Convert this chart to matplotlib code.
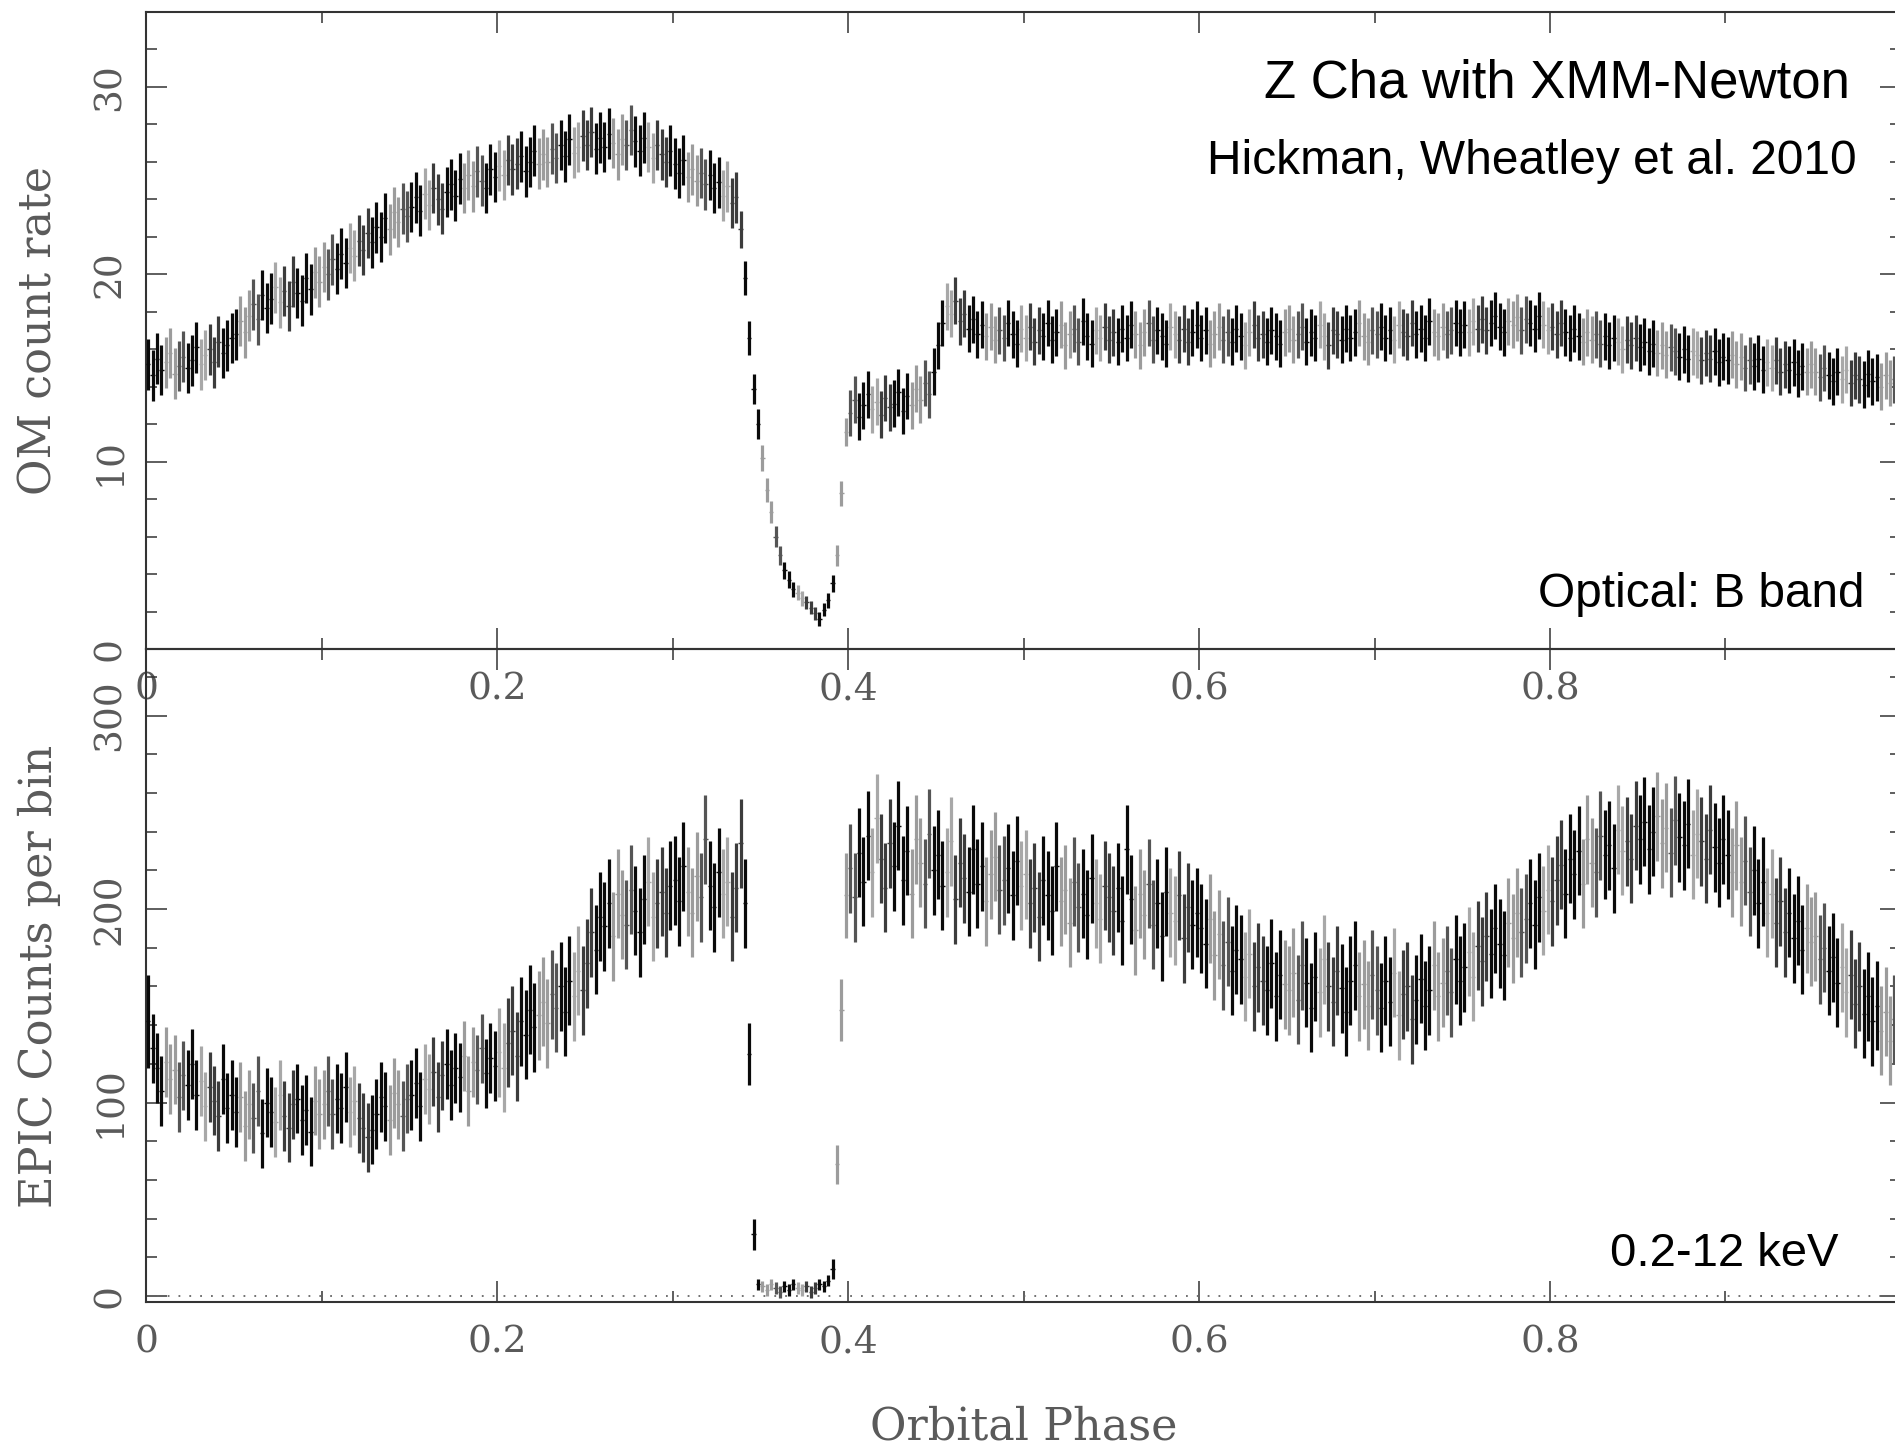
import numpy as np
import matplotlib
matplotlib.use("Agg")
import matplotlib.pyplot as plt
from matplotlib.ticker import MultipleLocator

# ---------------- data ----------------
PHASE_BIN = 0.0025          # orbital-phase bin width of both light curves

# OM (optical, B band) count rate per phase bin, phase 0 -> 1
OM_RATE = [
    15.2, 14.6, 15.5, 14.9, 15.3, 15.8, 14.7, 15.1, 15.6, 15.0, 15.4, 16.1, 15.2, 15.7, 16.0, 15.3, 16.4, 15.8, 16.2, 16.6,
    16.8, 17.5, 16.9, 17.8, 18.4, 17.6, 18.9, 18.2, 18.7, 19.3, 18.5, 19.1, 18.3, 19.6, 19.0, 18.6, 19.8, 19.2, 20.1, 19.6,
    20.4, 20.0, 20.8, 20.3, 21.1, 20.6, 21.4, 21.0, 21.8, 21.3, 22.2, 21.7, 22.5, 22.0, 23.0, 22.4, 23.3, 22.8, 23.5, 23.1,
    23.6, 24.1, 23.4, 24.3, 23.7, 24.6, 24.0, 23.5, 24.4, 24.8, 24.2, 25.1, 24.6, 25.3, 24.7, 25.5, 25.0, 24.6, 25.6, 25.2,
    25.8, 25.3, 26.1, 25.6, 25.9, 26.3, 25.5, 26.0, 26.6, 25.9, 26.4, 26.0, 26.7, 26.2, 26.9, 26.3, 27.2, 26.5, 26.8, 27.4,
    26.9, 27.6, 26.7, 27.3, 26.8, 27.5, 27.0, 26.4, 27.2, 26.9, 27.7, 27.1, 26.6, 27.3, 26.8, 26.2, 26.9, 26.4, 26.0, 26.6,
    25.9, 25.4, 26.1, 25.2, 25.6, 25.0, 25.4, 24.8, 25.3, 24.6, 24.9, 24.2, 24.7, 23.8, 24.1, 22.4, 19.8, 16.6, 13.9, 12.0,
    10.2, 8.5, 7.3, 6.0, 5.0, 4.2, 3.7, 3.2, 3.0, 2.7, 2.5, 2.2, 1.9, 1.6, 2.1, 2.6, 3.5, 5.0, 8.3, 11.6,
    12.6, 13.3, 12.4, 13.0, 13.6, 12.8, 13.2, 12.5, 13.4, 12.9, 13.1, 13.7, 12.7, 13.5, 13.0, 13.9, 13.3, 14.2, 13.6, 14.8,
    16.2, 17.4, 18.3, 17.9, 18.6, 17.5, 17.9, 17.1, 17.6, 16.8, 17.3, 16.7, 17.2, 16.5, 17.0, 16.6, 17.4, 16.8, 16.3, 17.1,
    16.6, 17.2, 16.4, 17.0, 16.7, 17.4, 16.5, 16.9, 17.3, 16.2, 16.8, 17.1, 16.4, 17.5, 16.7, 16.3, 17.0, 16.6, 17.2, 16.5,
    16.9, 16.4, 17.1, 16.6, 17.3, 16.8, 16.2, 16.9, 17.4, 16.5, 17.0, 16.7, 16.3, 17.2, 16.8, 16.5, 17.1, 16.4, 16.9, 17.3,
    16.6, 17.0, 16.3, 16.8, 17.2, 16.5, 16.9, 16.4, 17.1, 16.7, 16.2, 16.9, 17.3, 16.6, 16.8, 16.4, 17.0, 16.7, 16.3, 16.9,
    17.1, 16.5, 16.8, 17.2, 16.4, 16.9, 16.6, 17.3, 16.7, 16.2, 17.0, 16.8, 16.5, 17.1, 16.6, 16.9, 17.4, 16.7, 16.4, 17.0,
    16.8, 17.2, 16.6, 17.0, 16.5, 17.3, 16.9, 16.7, 17.4, 16.8, 17.1, 16.6, 17.5, 16.9, 16.7, 17.2, 16.8, 17.0, 17.4, 16.9,
    17.3, 16.9, 17.5, 17.1, 17.6, 17.0, 17.4, 17.8, 17.2, 16.9, 17.5, 17.3, 17.7, 17.0, 17.6, 17.4, 17.1, 17.8, 17.3, 17.0,
    17.2, 16.8, 17.4, 16.9, 16.6, 17.1, 16.7, 16.4, 16.9, 16.5, 16.8, 16.3, 16.7, 16.2, 16.6, 16.4, 16.0, 16.5, 16.2, 16.6,
    16.1, 16.4, 15.9, 16.3, 15.8, 16.2, 15.7, 16.1, 15.9, 15.6, 16.0, 15.5, 15.9, 15.7, 15.4, 15.8, 15.5, 15.9, 15.3, 15.6,
    15.4, 15.7, 15.2, 15.6, 15.0, 15.4, 15.1, 15.5, 14.9, 15.3, 15.0, 15.4, 14.8, 15.2, 14.9, 15.3, 14.7, 15.1, 14.8, 15.2,
    14.8, 14.5, 15.0, 14.6, 14.3, 14.8, 14.4, 14.9, 14.2, 14.6, 14.4, 14.1, 14.7, 14.3, 14.5, 14.0, 14.6, 14.2, 14.4, 14.1,
]
OM_ERR = ([1.35] * 135
          + [1.0, 0.9, 0.9, 0.8, 0.8, 0.7, 0.65, 0.6, 0.55, 0.5, 0.45, 0.45, 0.4, 0.4, 0.4,
             0.35, 0.35, 0.35, 0.35, 0.35, 0.4, 0.45, 0.55, 0.65, 0.75]
          + [1.25] * 240)

# EPIC (0.2-12 keV) counts per phase bin, phase 0 -> 1
XR_COUNTS = [
    142, 128, 118, 106, 121, 112, 117, 103, 114, 109, 120, 104, 111, 98, 108, 101, 93, 112, 97, 104,
    95, 103, 88, 99, 92, 106, 84, 100, 95, 90, 104, 93, 87, 99, 102, 91, 96, 85, 101, 94,
    99, 106, 94, 102, 97, 108, 95, 101, 92, 87, 82, 86, 94, 103, 98, 91, 105, 99, 93, 102,
    104, 110, 98, 112, 107, 116, 103, 114, 120, 109, 118, 113, 124, 106, 121, 117, 128, 115, 123, 119,
    126, 118, 131, 137, 124, 142, 135, 148, 139, 145, 152, 141, 156, 149, 160, 147, 163, 155, 168, 158,
    172, 188, 179, 196, 191, 203, 186, 208, 197, 192, 210, 199, 188, 205, 214, 196, 203, 209, 198, 212,
    215, 204, 222, 209, 198, 217, 206, 236, 212, 201, 219, 208, 214, 196, 211, 234, 203, 125, 32, 6,
    5, 3, 6, 4, 2, 5, 3, 6, 4, 3, 5, 2, 4, 6, 5, 8, 14, 68, 148, 207,
    221, 206, 229, 214, 238, 219, 247, 226, 211, 234, 222, 243, 215, 230, 208, 236, 224, 213, 239, 220,
    228, 212, 219, 235, 205, 224, 216, 209, 231, 213, 222, 204, 218, 227, 210, 215, 221, 207, 225, 212,
    218, 203, 211, 196, 215, 207, 199, 222, 204, 210, 193, 214, 201, 208, 197, 216, 203, 195, 212, 206,
    199, 211, 194, 231, 205, 189, 208, 197, 213, 192, 203, 186, 209, 198, 194, 207, 185, 201, 192, 198,
    190, 182, 195, 176, 187, 171, 183, 168, 179, 174, 165, 177, 160, 170, 163, 158, 172, 155, 166, 161,
    158, 167, 153, 171, 162, 149, 165, 157, 174, 160, 152, 168, 159, 147, 163, 171, 155, 161, 150, 166,
    158, 149, 163, 152, 167, 145, 156, 160, 143, 153, 164, 150, 158, 171, 155, 162, 168, 157, 174, 163,
    170, 178, 165, 181, 173, 186, 177, 190, 182, 176, 193, 185, 198, 188, 195, 203, 192, 206, 199, 210,
    204, 215, 223, 208, 226, 218, 230, 213, 236, 224, 219, 238, 228, 233, 221, 241, 230, 235, 226, 243,
    236, 245, 231, 240, 248, 234, 242, 229, 246, 237, 233, 244, 228, 239, 235, 226, 241, 232, 224, 236,
    228, 219, 233, 214, 225, 209, 220, 203, 214, 198, 208, 193, 204, 188, 198, 185, 194, 179, 190, 183,
    186, 174, 180, 168, 175, 162, 170, 157, 166, 151, 160, 146, 155, 142, 150, 137, 147, 132, 143, 139,
]
XR_ERR = ([24] + [18] * 79 + [23] * 57 + [16, 8, 3] + [3] * 16
          + [5, 10, 16, 22] + [23] * 240)

X_TICKS = [0, 0.2, 0.4, 0.6, 0.8]
X_TICK_LABELS = ["0", "0.2", "0.4", "0.6", "0.8"]
OM_TICKS = [0, 10, 20, 30]
XR_TICKS = [0, 100, 200, 300]

TITLE = "Z Cha with XMM-Newton"
CREDIT = "Hickman, Wheatley et al. 2010"
OM_BAND = "Optical: B band"
XR_BAND = "0.2-12 keV"
OM_YLABEL = "OM count rate"
XR_YLABEL = "EPIC Counts per bin"
XLABEL = "Orbital Phase"

# ---------------- figure ----------------
W, H = 1895, 1446
fig = plt.figure(figsize=(W / 100, H / 100), dpi=100)

def fx(px):
    return px / W

def fy(py):
    return 1 - py / H

X0, X1 = 146, 1901
ax1 = fig.add_axes([fx(X0), fy(649), (X1 - X0) / W, (649 - 12) / H])
ax2 = fig.add_axes([fx(X0), fy(1302), (X1 - X0) / W, (1302 - 649) / H])

SHADES = ['#0a0a0a', '#0a0a0a', '#0a0a0a', '#0a0a0a', '#9c9c9c', '#9c9c9c', '#9c9c9c',
          '#555555', '#555555', '#0a0a0a', '#0a0a0a', '#0a0a0a', '#a8a8a8', '#a8a8a8',
          '#3c3c3c', '#3c3c3c', '#3c3c3c']

TICK_FONT = dict(family='DejaVu Serif', size=27, color='#5a5a5a')
LABEL_FONT = dict(family='DejaVu Serif', size=32, color='#5a5a5a')
SANS = ['Liberation Sans', 'Arial', 'DejaVu Sans']


def draw_curve(ax, values, errs):
    v = np.asarray(values, dtype=float)
    e = np.asarray(errs, dtype=float)
    x = (np.arange(len(v)) + 0.5) * PHASE_BIN
    cols = [SHADES[i % len(SHADES)] for i in range(len(v))]
    ax.vlines(x, v - e, v + e, colors=cols, linewidth=2.3, zorder=3)
    ax.hlines(v, x - PHASE_BIN / 2, x + PHASE_BIN / 2, colors=cols, linewidth=1.0, zorder=3)


draw_curve(ax1, OM_RATE, OM_ERR)
draw_curve(ax2, XR_COUNTS, XR_ERR)
ax2.axhline(0, color='#666666', linewidth=1.3, linestyle=(0, (1, 5)), zorder=2)

ax1.set_ylim(0, 34)
ax2.set_ylim(-3.1, 334.4)

for ax, yt, ymaj, ymin in ((ax1, OM_TICKS, 10, 2), (ax2, XR_TICKS, 100, 20)):
    ax.set_xlim(0, 1)
    ax.set_xticks(X_TICKS)
    ax.set_xticklabels(X_TICK_LABELS)
    ax.xaxis.set_minor_locator(MultipleLocator(0.1))
    ax.set_yticks(yt)
    ax.set_yticklabels([str(t) for t in yt], rotation=90, va='center')
    ax.yaxis.set_minor_locator(MultipleLocator(ymin))
    ax.tick_params(which='both', direction='in', top=True, right=True,
                   color='#333333', width=1.1)
    ax.tick_params(which='major', length=15)
    ax.tick_params(which='minor', length=7.7)
    ax.tick_params(axis='x', which='major', pad=16)
    ax.tick_params(axis='y', which='major', pad=13)
    for lab in ax.get_xticklabels() + ax.get_yticklabels():
        lab.set_fontfamily(TICK_FONT['family'])
        lab.set_fontsize(TICK_FONT['size'])
        lab.set_color(TICK_FONT['color'])
    for sp in ax.spines.values():
        sp.set_color('#333333')
        sp.set_linewidth(1.5)
    ax.set_facecolor('none')

# axis labels
fig.text(fx(39), fy(330), OM_YLABEL, rotation=90, ha='center', va='center', **LABEL_FONT)
fig.text(fx(39), fy(976), XR_YLABEL, rotation=90, ha='center', va='center', **LABEL_FONT)
fig.text(fx(1024), fy(1427), XLABEL, ha='center', va='center', **LABEL_FONT)

# annotations
fig.text(fx(1850), fy(98), TITLE, ha='right', va='baseline', family=SANS, size=38, color='black')
fig.text(fx(1857), fy(174), CREDIT, ha='right', va='baseline', family=SANS, size=34.5, color='black')
fig.text(fx(1865), fy(607), OM_BAND, ha='right', va='baseline', family=SANS, size=34.4, color='black')
fig.text(fx(1838), fy(1266), XR_BAND, ha='right', va='baseline', family=SANS, size=34, color='black')

fig.savefig('out.png', dpi=100)
